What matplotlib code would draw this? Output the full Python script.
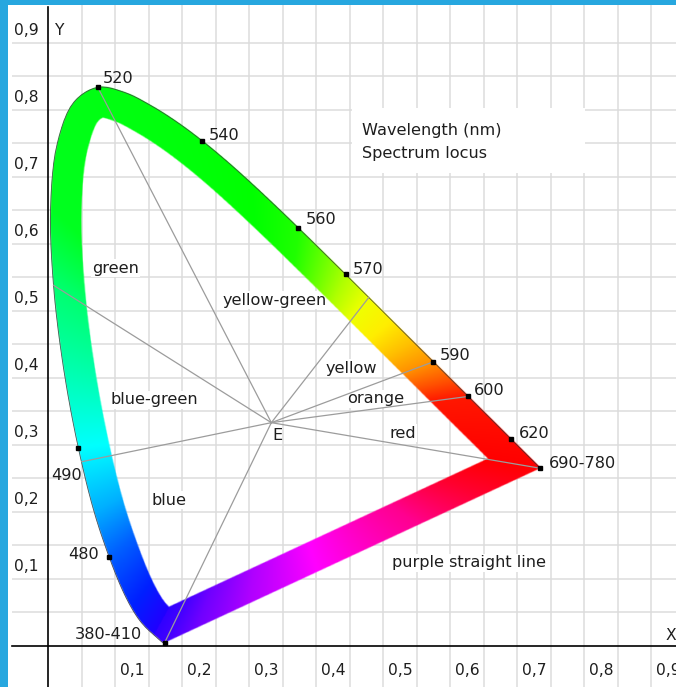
import numpy as np
import matplotlib
matplotlib.use("Agg")
import matplotlib.pyplot as plt
from matplotlib.path import Path
from matplotlib.colors import to_rgb

# CIE 1931 2-degree spectrum locus (chromaticity x, y per wavelength in nm)
wavelengths = [380, 385, 390, 395, 400, 405, 410, 415, 420, 425, 430, 435, 440,
               445, 450, 455, 460, 465, 470, 475, 480, 485, 490, 495, 500, 505,
               510, 515, 520, 525, 530, 535, 540, 545, 550, 555, 560, 565, 570,
               575, 580, 585, 590, 595, 600, 605, 610, 615, 620, 625, 630, 635,
               640, 645, 650, 655, 660, 665, 670, 680, 690, 700]
locus_x = [0.1741, 0.1740, 0.1738, 0.1736, 0.1733, 0.1730, 0.1726, 0.1721,
           0.1714, 0.1703, 0.1689, 0.1669, 0.1644, 0.1611, 0.1566, 0.1510,
           0.1440, 0.1355, 0.1241, 0.1096, 0.0913, 0.0687, 0.0454, 0.0235,
           0.0082, 0.0039, 0.0139, 0.0389, 0.0743, 0.1142, 0.1547, 0.1929,
           0.2296, 0.2658, 0.3016, 0.3373, 0.3731, 0.4087, 0.4441, 0.4788,
           0.5125, 0.5448, 0.5752, 0.6029, 0.6270, 0.6482, 0.6658, 0.6801,
           0.6915, 0.7006, 0.7079, 0.7140, 0.7190, 0.7230, 0.7260, 0.7283,
           0.7300, 0.7311, 0.7320, 0.7334, 0.7344, 0.7347]
locus_y = [0.0050, 0.0050, 0.0049, 0.0049, 0.0048, 0.0048, 0.0048, 0.0048,
           0.0051, 0.0058, 0.0069, 0.0086, 0.0109, 0.0138, 0.0177, 0.0227,
           0.0297, 0.0399, 0.0578, 0.0868, 0.1327, 0.2007, 0.2950, 0.4127,
           0.5384, 0.6548, 0.7502, 0.8120, 0.8338, 0.8262, 0.8059, 0.7816,
           0.7543, 0.7243, 0.6923, 0.6589, 0.6245, 0.5896, 0.5547, 0.5202,
           0.4866, 0.4544, 0.4242, 0.3965, 0.3725, 0.3514, 0.3340, 0.3197,
           0.3083, 0.2993, 0.2920, 0.2859, 0.2809, 0.2770, 0.2740, 0.2717,
           0.2700, 0.2689, 0.2680, 0.2666, 0.2656, 0.2653]

# Equal-energy white point
white_x, white_y = 1 / 3, 1 / 3

# Marked wavelengths and their labels
marked_nm = [380, 480, 490, 520, 540, 560, 570, 590, 600, 620, 700]
marked_text = ["380-410", "480", "490", "520", "540", "560", "570", "590",
               "600", "620", "690-780"]

# Hue boundary lines from E to the locus
boundary_x = [0.0743, 0.0082, 0.0503, 0.1741, 0.4788, 0.5752, 0.6270, 0.7347]
boundary_y = [0.8338, 0.5384, 0.2750, 0.0050, 0.5202, 0.4242, 0.3725, 0.2653]

# Colour names of the regions
region_names = ["green", "yellow-green", "yellow", "orange", "red",
                "blue-green", "blue", "purple straight line"]

# Band colour as a function of the angle (deg) around E
hue_angle = [-119, -116, -110, -97, -73, -35, -19, -9.6, 7.6, 13.2, 20.6,
             29.8, 40.6, 52, 63, 73.6, 82, 95, 135.7, 147.8, 165.6, 187.5,
             206.6, 219.7, 232.8, 241]
hue_color = ["#3000ff", "#4000ff", "#7000ff", "#b000ff", "#ff00ff", "#ff0090",
             "#ff0030", "#ff0000", "#ff1800", "#ff5000", "#ff9000", "#ffc000",
             "#ffee00", "#f0ff00", "#b0ff00", "#60ff00", "#20ff00", "#00ff00",
             "#00ff20", "#00ff70", "#00ffb0", "#00ffff", "#00b0ff", "#0060ff",
             "#0020ff", "#2000ff"]

tick_values = [0.1, 0.2, 0.3, 0.4, 0.5, 0.6, 0.7, 0.8, 0.9]
tick_text = ["0,1", "0,2", "0,3", "0,4", "0,5", "0,6", "0,7", "0,8", "0,9"]


def smooth_curve(xs, ys, sub=6, min_gap=0.002):
    """Centripetal Catmull-Rom curve through the locus points, for drawing."""
    pts = [np.array([xs[0], ys[0]])]
    for x, y in zip(xs[1:], ys[1:]):
        p = np.array([x, y])
        if np.hypot(*(p - pts[-1])) > min_gap:
            pts.append(p)
    pts = np.array(pts)
    ext = np.vstack([2 * pts[0] - pts[1], pts, 2 * pts[-1] - pts[-2]])
    out = [pts[0]]
    for i in range(1, len(ext) - 2):
        p0, p1, p2, p3 = ext[i - 1], ext[i], ext[i + 1], ext[i + 2]
        t0 = 0.0
        t1 = t0 + np.linalg.norm(p1 - p0) ** 0.5
        t2 = t1 + np.linalg.norm(p2 - p1) ** 0.5
        t3 = t2 + np.linalg.norm(p3 - p2) ** 0.5
        for t in np.linspace(t1, t2, sub + 1)[1:]:
            a1 = (t1 - t) / (t1 - t0) * p0 + (t - t0) / (t1 - t0) * p1
            a2 = (t2 - t) / (t2 - t1) * p1 + (t - t1) / (t2 - t1) * p2
            a3 = (t3 - t) / (t3 - t2) * p2 + (t - t2) / (t3 - t2) * p3
            b1 = (t2 - t) / (t2 - t0) * a1 + (t - t0) / (t2 - t0) * a2
            b2 = (t3 - t) / (t3 - t1) * a2 + (t - t1) / (t3 - t1) * a3
            out.append((t2 - t) / (t2 - t1) * b1 + (t - t1) / (t2 - t1) * b2)
    out = np.array(out)
    return out[:, 0], out[:, 1]


# ---------------------------------------------------------------- figure
W, H = 676, 687
fig = plt.figure(figsize=(W / 100, H / 100), dpi=100, facecolor="#27a7df")
ax = fig.add_axes([8 / W, 0, (W - 8) / W, (H - 5) / H])
XMIN, XMAX = -0.0597, 0.9373
YMIN, YMAX = -0.0612, 0.9567
ax.set_facecolor("white")
for s in ax.spines.values():
    s.set_visible(False)
ax.set_xticks([])
ax.set_yticks([])

grid_kw = dict(color="#dcdcdc", lw=1.1, zorder=0)
steps = np.round(np.arange(0.05, 0.951, 0.05), 2)
ax.vlines(steps[steps < XMAX], YMIN, YMAX, **grid_kw)
ax.hlines(steps[steps <= 0.9], -0.054, XMAX, **grid_kw)

# axes
ax.plot([0, 0], [YMIN, 0.953], color="black", lw=1.2, zorder=5)
ax.plot([-0.053, XMAX], [0, 0], color="black", lw=1.2, zorder=5)

# ---------------------------------------------------------------- colour band
cx, cy = smooth_curve(locus_x, locus_y)
lx = np.append(cx, cx[0])
ly = np.append(cy, cy[0])
band = 0.046
h = 0.0012
gx = np.arange(-0.01, 0.76, h)
gy = np.arange(-0.01, 0.86, h)
X, Y = np.meshgrid(gx, gy)
dist = np.full(X.shape, np.inf)
for i in range(len(lx) - 1):
    x0, y0, x1, y1 = lx[i], ly[i], lx[i + 1], ly[i + 1]
    dx, dy = x1 - x0, y1 - y0
    L2 = dx * dx + dy * dy
    if L2 == 0:
        continue
    t = np.clip(((X - x0) * dx + (Y - y0) * dy) / L2, 0, 1)
    np.minimum(dist, np.hypot(X - x0 - t * dx, Y - y0 - t * dy), out=dist)
inside = Path(np.column_stack([lx, ly])).contains_points(
    np.column_stack([X.ravel(), Y.ravel()])).reshape(X.shape)
sd = np.where(inside, dist, -dist)
pix = 1 / 670
alpha = np.clip(sd / pix + 0.5, 0, 1) * np.clip((band - sd) / pix + 0.5, 0, 1)

phi = np.degrees(np.arctan2(Y - white_y, X - white_x))
phi = np.where(phi < -119, phi + 360, phi)
cols = np.array([to_rgb(c) for c in hue_color])
rgba = np.zeros(X.shape + (4,))
for k in range(3):
    rgba[..., k] = np.interp(phi, hue_angle, cols[:, k])
rgba[..., 3] = alpha
ax.imshow(rgba, origin="lower", interpolation="bilinear", aspect="auto",
          extent=[gx[0] - h / 2, gx[-1] + h / 2, gy[0] - h / 2, gy[-1] + h / 2],
          zorder=2)
ax.set_xlim(XMIN, XMAX)
ax.set_ylim(YMIN, YMAX)

# outer edge of the spectrum locus
ax.plot(cx, cy, color="#303030", lw=0.6, alpha=0.8, zorder=3)

# hue boundary lines
for bx, by in zip(boundary_x, boundary_y):
    ax.plot([white_x, bx], [white_y, by], color="#9c9c9c", lw=0.9, zorder=4)

# ---------------------------------------------------------------- text
font = dict(family="DejaVu Sans", fontsize=11.6, color="#1e1e1e")
tick_font = dict(family="DejaVu Sans", fontsize=11.2, color="#1e1e1e")
box = dict(facecolor="white", edgecolor="none", pad=0.8)

for v, s in zip(tick_values, tick_text):
    ax.text(-0.0507, v + 0.018, s, ha="left", va="center", **tick_font)
    ax.text(v + 0.008, -0.036, s, ha="left", va="center", **tick_font)
ax.text(0.0104, 0.918, "Y", ha="left", va="center", **tick_font)
ax.text(0.921, 0.0164, "X", ha="left", va="center", **tick_font)

label_offsets = {380: (-23, 8, "right"), 480: (-10, 3, "right"),
                 490: (4, -27, "right"), 520: (5, 9, "left"),
                 540: (7, 5, "left"), 560: (8, 8, "left"),
                 570: (7, 5, "left"), 590: (6, 6, "left"),
                 600: (6, 6, "left"), 620: (8, 6, "left"),
                 700: (9, 5, "left")}
for nm, s in zip(marked_nm, marked_text):
    i = wavelengths.index(nm)
    mx, my = locus_x[i], locus_y[i]
    ax.plot(mx, my, "s", color="black", ms=2.2, zorder=6)
    ox, oy, ha = label_offsets[nm]
    ax.annotate(s, (mx, my), xytext=(ox, oy), textcoords="offset pixels",
                ha=ha, va="center", zorder=7, **font)

# region names sit under the band and the boundary lines
region_pos = [(0.0657, 0.564), (0.2612, 0.5164), (0.4149, 0.4149),
              (0.4463, 0.3687), (0.509, 0.3179), (0.094, 0.3672),
              (0.1552, 0.2179), (0.5134, 0.1239)]
for (tx, ty), s in zip(region_pos, region_names):
    ax.text(tx, ty, s, ha="left", va="center", bbox=box, zorder=1.5, **font)
ax.text(0.3343, 0.3149, "E", ha="left", va="center", zorder=7, **font)

# caption box
ax.add_patch(plt.Rectangle((0.4537, 0.706), 0.3478, 0.097, facecolor="white",
                           edgecolor="none", zorder=1))
ax.text(0.4687, 0.7701, "Wavelength (nm)", ha="left", va="center", zorder=7, **font)
ax.text(0.4687, 0.7358, "Spectrum locus", ha="left", va="center", zorder=7, **font)

fig.savefig("out.png", dpi=100, facecolor=fig.get_facecolor())
